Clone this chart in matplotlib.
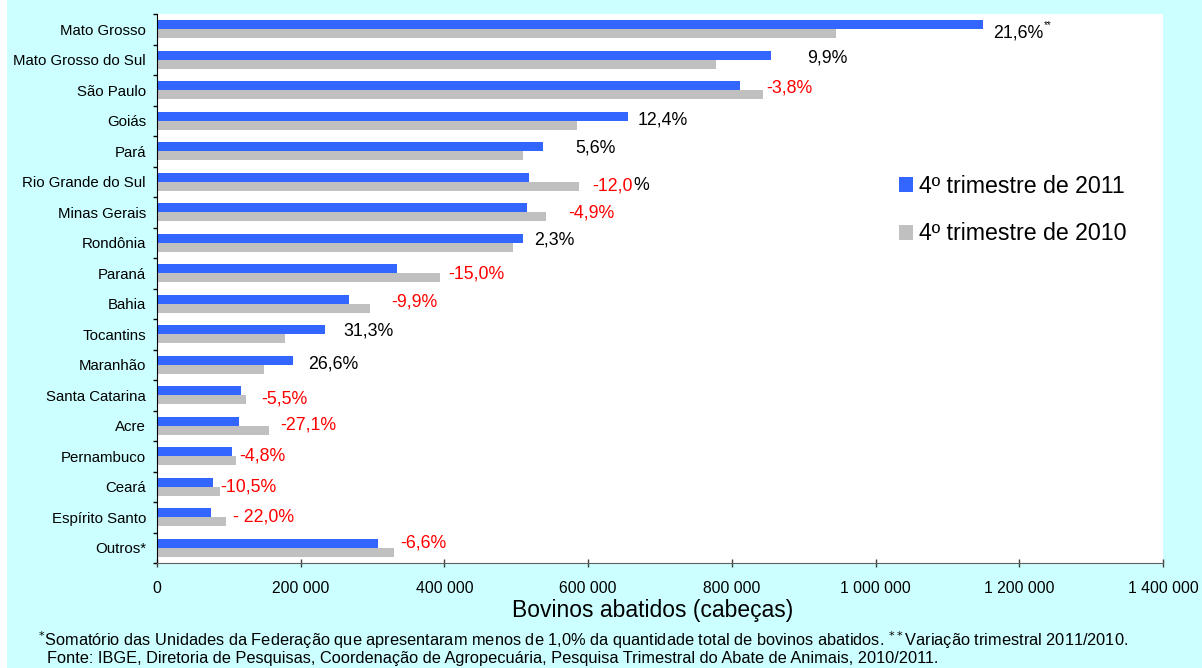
import numpy as np
import matplotlib
matplotlib.use("Agg")
import matplotlib.pyplot as plt
from matplotlib.patches import Patch, Rectangle
from matplotlib.ticker import FuncFormatter

plt.rcParams['font.family'] = ['Liberation Sans', 'DejaVu Sans']

# data
states = ["Mato Grosso", "Mato Grosso do Sul", "São Paulo", "Goiás", "Pará",
          "Rio Grande do Sul", "Minas Gerais", "Rondônia", "Paraná", "Bahia",
          "Tocantins", "Maranhão", "Santa Catarina", "Acre", "Pernambuco",
          "Ceará", "Espírito Santo", "Outros*"]
q4_2011 = [1150000, 854000, 811000, 656000, 536500, 517000, 515600, 508700, 334000,
           267600, 234000, 188600, 117000, 114000, 104700, 78600, 75300, 308000]
q4_2010 = [945000, 777600, 843000, 584000, 508700, 586700, 542000, 496000, 394000,
           297000, 178000, 149000, 124000, 156000, 110000, 87800, 96200, 330000]
variation = ["21,6%", "9,9%", "-3,8%", "12,4%", "5,6%", "-12,0%", "-4,9%", "2,3%",
             "-15,0%", "-9,9%", "31,3%", "26,6%", "-5,5%", "-27,1%", "-4,8%",
             "-10,5%", "- 22,0%", "-6,6%"]
x_ticks = [0, 200000, 400000, 600000, 800000, 1000000, 1200000, 1400000]

# manual label nudges (pixels), like the hand-placed labels of the original
lab_dx = [10, 36, 3, 9, 33, 14, 22, 12, 8, 21, 18, 16, 15, 11, 3, 0, 7, 6]
lab_dy = [4, -2, -2, -1, -3, 4, 1, -3, 1, -2, -3, -1, 4, -1, 0, 0, 0, -5]

blue = "#3366FF"
grey = "#C0C0C0"

fig = plt.figure(figsize=(12.02, 6.68), dpi=100, facecolor="white")
fig.patches.append(Rectangle((7 / 1202, 0), 1, 1, transform=fig.transFigure,
                             facecolor="#CCFFFF", edgecolor="none", zorder=-10))

W, H = 1202, 668
ax = fig.add_axes([157 / W, (H - 563) / H, (1163 - 157) / W, (563 - 14) / H])
ax.set_facecolor("white")

y = np.arange(len(states))
h = 0.295
ax.barh(y - h / 2, q4_2011, height=h, color=blue, label="4º trimestre de 2011")
ax.barh(y + h / 2, q4_2010, height=h, color=grey, label="4º trimestre de 2010")

ax.set_xlim(0, 1400000)
ax.set_ylim(len(states) - 0.5, -0.5)
ax.set_xticks(x_ticks)
ax.xaxis.set_major_formatter(FuncFormatter(lambda v, p: f"{int(v):,}".replace(",", " ")))
ax.tick_params(axis="x", direction="inout", length=6, width=1, pad=10,
               labelsize=11.3, color="#404040")

# y ticks at category boundaries, labels at centres
ax.set_yticks(np.arange(-0.5, len(states), 1))
ax.set_yticklabels([])
ax.tick_params(axis="y", which="major", direction="out", length=3, width=1)
ax.set_yticks(y, minor=True)
ax.set_yticklabels(states, minor=True)
ax.tick_params(axis="y", which="minor", length=0, pad=8, labelsize=10.8)

for s in ["top", "right"]:
    ax.spines[s].set_visible(False)
ax.spines["left"].set_color("black")
ax.spines["bottom"].set_color("#606060")

for i, lab in enumerate(variation):
    xend = max(q4_2011[i], q4_2010[i])
    neg = lab.startswith("-")
    col = "red" if neg else "black"
    txt = lab
    if states[i] == "Rio Grande do Sul":
        txt = lab[:-1]
    t = ax.annotate(txt, xy=(xend, i), xytext=(lab_dx[i], -lab_dy[i]),
                    textcoords="offset pixels", ha="left", va="center",
                    fontsize=12.8, color=col)
    if states[i] == "Rio Grande do Sul":
        ax.annotate("%", xy=(1, 0.5), xycoords=t, ha="left", va="center",
                    fontsize=12.8, color="black")
    if i == 0:
        ax.annotate("**", xy=(1, 1), xycoords=t, ha="left", va="center",
                    fontsize=7, color="black")

handles = [Patch(facecolor=blue, edgecolor="none"), Patch(facecolor=grey, edgecolor="none")]
fig.legend(handles, ["4º trimestre de 2011", "4º trimestre de 2010"],
           loc="upper left", bbox_to_anchor=(899 / W, 1 - 175 / H),
           frameon=False, fontsize=16.7, handlelength=0.6, handleheight=0.6,
           handletextpad=0.25, labelspacing=1.05, borderpad=0, borderaxespad=0)

fig.text(653 / W, 1 - 610 / H, "Bovinos abatidos (cabeças)", ha="center", va="center",
         fontsize=16.5)
fig.text(38 / W, 1 - 640 / H,
         r"$^{*}$Somatório das Unidades da Federação que apresentaram menos de 1,0% da "
         r"quantidade total de bovinos abatidos. $^{**}$Variação trimestral 2011/2010.",
         ha="left", va="center", fontsize=11.8)
fig.text(47 / W, 1 - 658 / H,
         "Fonte: IBGE, Diretoria de Pesquisas, Coordenação de Agropecuária, "
         "Pesquisa Trimestral do Abate de Animais, 2010/2011.",
         ha="left", va="center", fontsize=11.8)

fig.savefig("out.png", dpi=100, facecolor=fig.get_facecolor())
